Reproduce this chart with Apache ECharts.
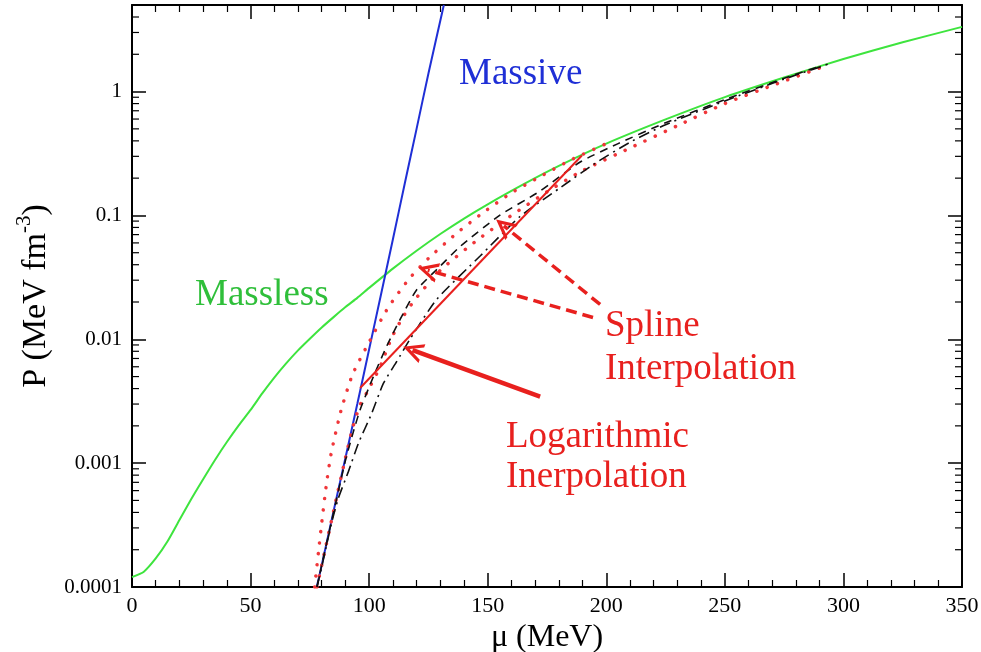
<!DOCTYPE html>
<html><head><meta charset="utf-8">
<script src="https://cdn.jsdelivr.net/npm/echarts@6/dist/echarts.min.js"></script>
<style>html,body{margin:0;padding:0;background:#fff}#c{width:981px;height:652px}</style>
</head><body><div id="c"></div>
<script>
// ---- data (mu in MeV, P in MeV fm^-3) ----
const yTickLabels = ['0.0001', '0.001', '0.01', '0.1', '1'];
const xTickLabels = ['0', '50', '100', '150', '200', '250', '300', '350'];
const logMinorMultipliers = [2, 3, 4, 5, 6, 7, 8, 9];

const massless = [[0,1.20e-4],[5,1.33e-4],[10,1.70e-4],[15,2.34e-4],[20,3.47e-4],[25,5.13e-4],[30,7.41e-4],[35,1.06e-3],[40,1.48e-3],[45,2.02e-3],[50,2.69e-3],[55,3.67e-3],[60,4.90e-3],[65,6.38e-3],[70,8.13e-3],[75,0.0101],[80,0.01245],[85,0.0151],[90,0.0182],[95,0.0216],[100,0.026],[110,0.0372],[120,0.0519],[130,0.0708],[140,0.0944],[150,0.123],[165,0.178],[180,0.251],[200,0.38],[225,0.596],[250,0.902],[275,1.30],[300,1.83],[325,2.50],[350,3.33]];

const massive = [[77.9,1e-4],[80,1.5e-4],[85,4.1e-4],[90,1.1e-3],[95,3.0e-3],[100,8.3e-3],[105,0.023],[110,0.064],[115,0.18],[120,0.5],[125,1.4],[131.5,5]];

const splineDotted1 = [[77,1e-4],[78.6,1.9e-4],[80,3.3e-4],[82,6.8e-4],[84,1.2e-3],[88,2.6e-3],[93,5.2e-3],[100,9.5e-3],[108,0.018],[117,0.031],[125,0.045],[137,0.072],[148,0.105],[160,0.152],[172,0.205],[185,0.28],[200,0.38]];

const splineDotted2 = [[78,1e-4],[80,1.5e-4],[85,4.1e-4],[90,1.1e-3],[93.3,2.0e-3],[96,2.9e-3],[99,3.7e-3],[104.6,6.0e-3],[109.5,0.0103],[114.4,0.0153],[119.4,0.021],[130,0.036],[145,0.062],[160,0.10],[175,0.155],[190,0.23],[210,0.35],[230,0.53],[250,0.8],[270,1.12],[290,1.55]];

const splineDashed = [[78,1e-4],[80,1.5e-4],[85,4.0e-4],[90,1.05e-3],[93,1.7e-3],[96.2,2.7e-3],[101.8,5.0e-3],[107.4,8.8e-3],[113,0.0144],[120,0.025],[130,0.039],[138.3,0.056],[155,0.10],[172,0.157],[189,0.27],[205,0.38],[225,0.56],[250,0.86],[275,1.28],[290,1.6]];

const splineDashDot = [[78,1e-4],[80,1.45e-4],[84,3.2e-4],[87,5.2e-4],[91.2,8.5e-4],[95.5,1.45e-3],[101,2.5e-3],[106,4.4e-3],[111.6,6.6e-3],[117.2,0.010],[128.5,0.021],[146.8,0.047],[163.6,0.098],[180.5,0.167],[194.6,0.258],[210,0.39],[225,0.54],[250,0.84],[275,1.26],[295,1.7]];

const logInterp = [[96.2,0.00404],[189.7,0.305]];

// annotation arrows (data coordinates: start -> arrowhead centre)
const splineArrow1 = [[197.4,0.0191],[156.8,0.0824]];
const splineArrow2 = [[194.4,0.0150],[124.7,0.0361]];
const logArrow = [[172.1,0.00344],[118.3,0.00818]];

const serif = 'Liberation Serif';
const X_MIN = 0, X_MAX = 350, Y_MIN = 0.0001, Y_MAX = 5;
const chart = echarts.init(document.getElementById('c'));

function ylab(v){
  const l = Math.log10(v);
  if (Math.abs(l - Math.round(l)) > 1e-6) return '';
  return yTickLabels[Math.round(l) + 4] || '';
}
function xlab(v){ const i = Math.round(v/50); return Math.abs(v - i*50) < 1e-6 ? (xTickLabels[i] || '') : ''; }

// log-axis minor tick positions (2..9 in every decade of the axis)
const logMinorTicks = [];
for (let k = -4; k <= 0; k++) {
  logMinorMultipliers.forEach(m => { const v = m * Math.pow(10, k); if (v < Y_MAX) logMinorTicks.push([X_MIN, v]); });
}

function lineS(name, data, color, width, type, cap){
  return {name, type:'line', data, showSymbol:false, symbol:'none', smooth:0.2, clip:true,
    lineStyle:{color, width, type, cap: cap || 'butt'}, z:3};
}
const chevron = 'path://M0,20 L10,0 L20,20 L16.5,20 L10,7 L3.5,20 Z';
function arrowS(from, to, width, dashed){
  return {type:'line', data:[], markLine:{silent:true, symbol:['none', chevron], symbolSize:[20,20],
    itemStyle:{color:'#e8201e'},
    lineStyle:{color:'#e8201e', width, type: dashed ? [11,6] : 'solid'}, label:{show:false},
    data:[[{coord:from},{coord:to}]]}};
}

function axisBase(extra, minorShow){
  return Object.assign({
    axisLine:{show:true, onZero:false, lineStyle:{color:'#000', width:2}},
    axisTick:{show:true, inside:true, length:14, lineStyle:{color:'#000', width:1.5}},
    minorTick:{show:minorShow, splitNumber:5, length:7, lineStyle:{color:'#000', width:1.2}},
    splitLine:{show:false}, minorSplitLine:{show:false}
  }, extra);
}

chart.setOption({
  animation:false,
  backgroundColor:'#fff',
  grid:{left:132, right:19, top:5, bottom:65, show:false, containLabel:false, outerBoundsMode:'none'},
  xAxis:[
    axisBase({type:'value', min:X_MIN, max:X_MAX, interval:50, position:'bottom',
      axisLabel:{formatter:xlab, color:'#000', fontFamily:serif, fontSize:22, margin:8},
      name:'\u03bc (MeV)', nameLocation:'middle', nameGap:26,
      nameTextStyle:{fontFamily:serif, fontSize:32, color:'#000'}}, true),
    axisBase({type:'value', min:X_MIN, max:X_MAX, interval:50, position:'top',
      axisLabel:{show:false}}, true)
  ],
  yAxis:[
    axisBase({type:'log', logBase:10, min:Y_MIN, max:Y_MAX, position:'left',
      axisLabel:{formatter:ylab, color:'#000', fontFamily:serif, fontSize:21, margin:10},
      name:'P (MeV fm{sup|-3})', nameLocation:'middle', nameGap:70, nameRotate:90,
      nameTextStyle:{fontFamily:serif, fontSize:34, color:'#000',
        rich:{sup:{fontFamily:serif, fontSize:21, color:'#000', verticalAlign:'top', padding:[0,0,24,0]}}}}, false),
    axisBase({type:'log', logBase:10, min:Y_MIN, max:Y_MAX, position:'right',
      axisLabel:{show:false}}, false)
  ],
  series:[
    {type:'custom', name:'minor ticks', silent:true, clip:false, z:1, data:logMinorTicks,
      renderItem:function(params, api){
        const v = api.value(1);
        const pl = api.coord([X_MIN, v]);
        const pr = api.coord([X_MAX, v]);
        const st = {stroke:'#000', lineWidth:1.2};
        return {type:'group', children:[
          {type:'line', shape:{x1:pl[0], y1:pl[1], x2:pl[0]+7, y2:pl[1]}, style:st},
          {type:'line', shape:{x1:pr[0]-7, y1:pr[1], x2:pr[0], y2:pr[1]}, style:st}
        ]};
      }},
    lineS('Massless', massless, '#3ee43e', 2, 'solid'),
    lineS('Massive', massive, '#1f2fd6', 2, 'solid'),
    lineS('Spline 1', splineDotted1, '#f0363a', 3.5, [0.1,11], 'round'),
    lineS('Spline 2', splineDotted2, '#f0363a', 3.5, [0.1,11], 'round'),
    lineS('Spline dashed', splineDashed, '#111', 1.6, [8,6]),
    lineS('Spline dash-dot', splineDashDot, '#111', 1.6, [11,5,2,5]),
    Object.assign(lineS('Log interpolation', logInterp, '#e8201e', 2, 'solid'), {smooth:false}),
    arrowS(splineArrow1[0], splineArrow1[1], 3.5, true),
    arrowS(splineArrow2[0], splineArrow2[1], 3.5, true),
    arrowS(logArrow[0], logArrow[1], 4.5, false)
  ],
  graphic:[
    {type:'text', left:459, top:56, style:{text:'Massive', fill:'#1f2fd6', font:'37px "Liberation Serif"'}},
    {type:'text', left:195, top:277, style:{text:'Massless', fill:'#2fbf3a', font:'37px "Liberation Serif"'}},
    {type:'text', left:605, top:305, style:{text:'Spline\nInterpolation', fill:'#e8201e', font:'37px "Liberation Serif"', lineHeight:43}},
    {type:'text', left:506, top:417, style:{text:'Logarithmic\nInerpolation', fill:'#e8201e', font:'37px "Liberation Serif"', lineHeight:40}}
  ]
});
</script></body></html>
